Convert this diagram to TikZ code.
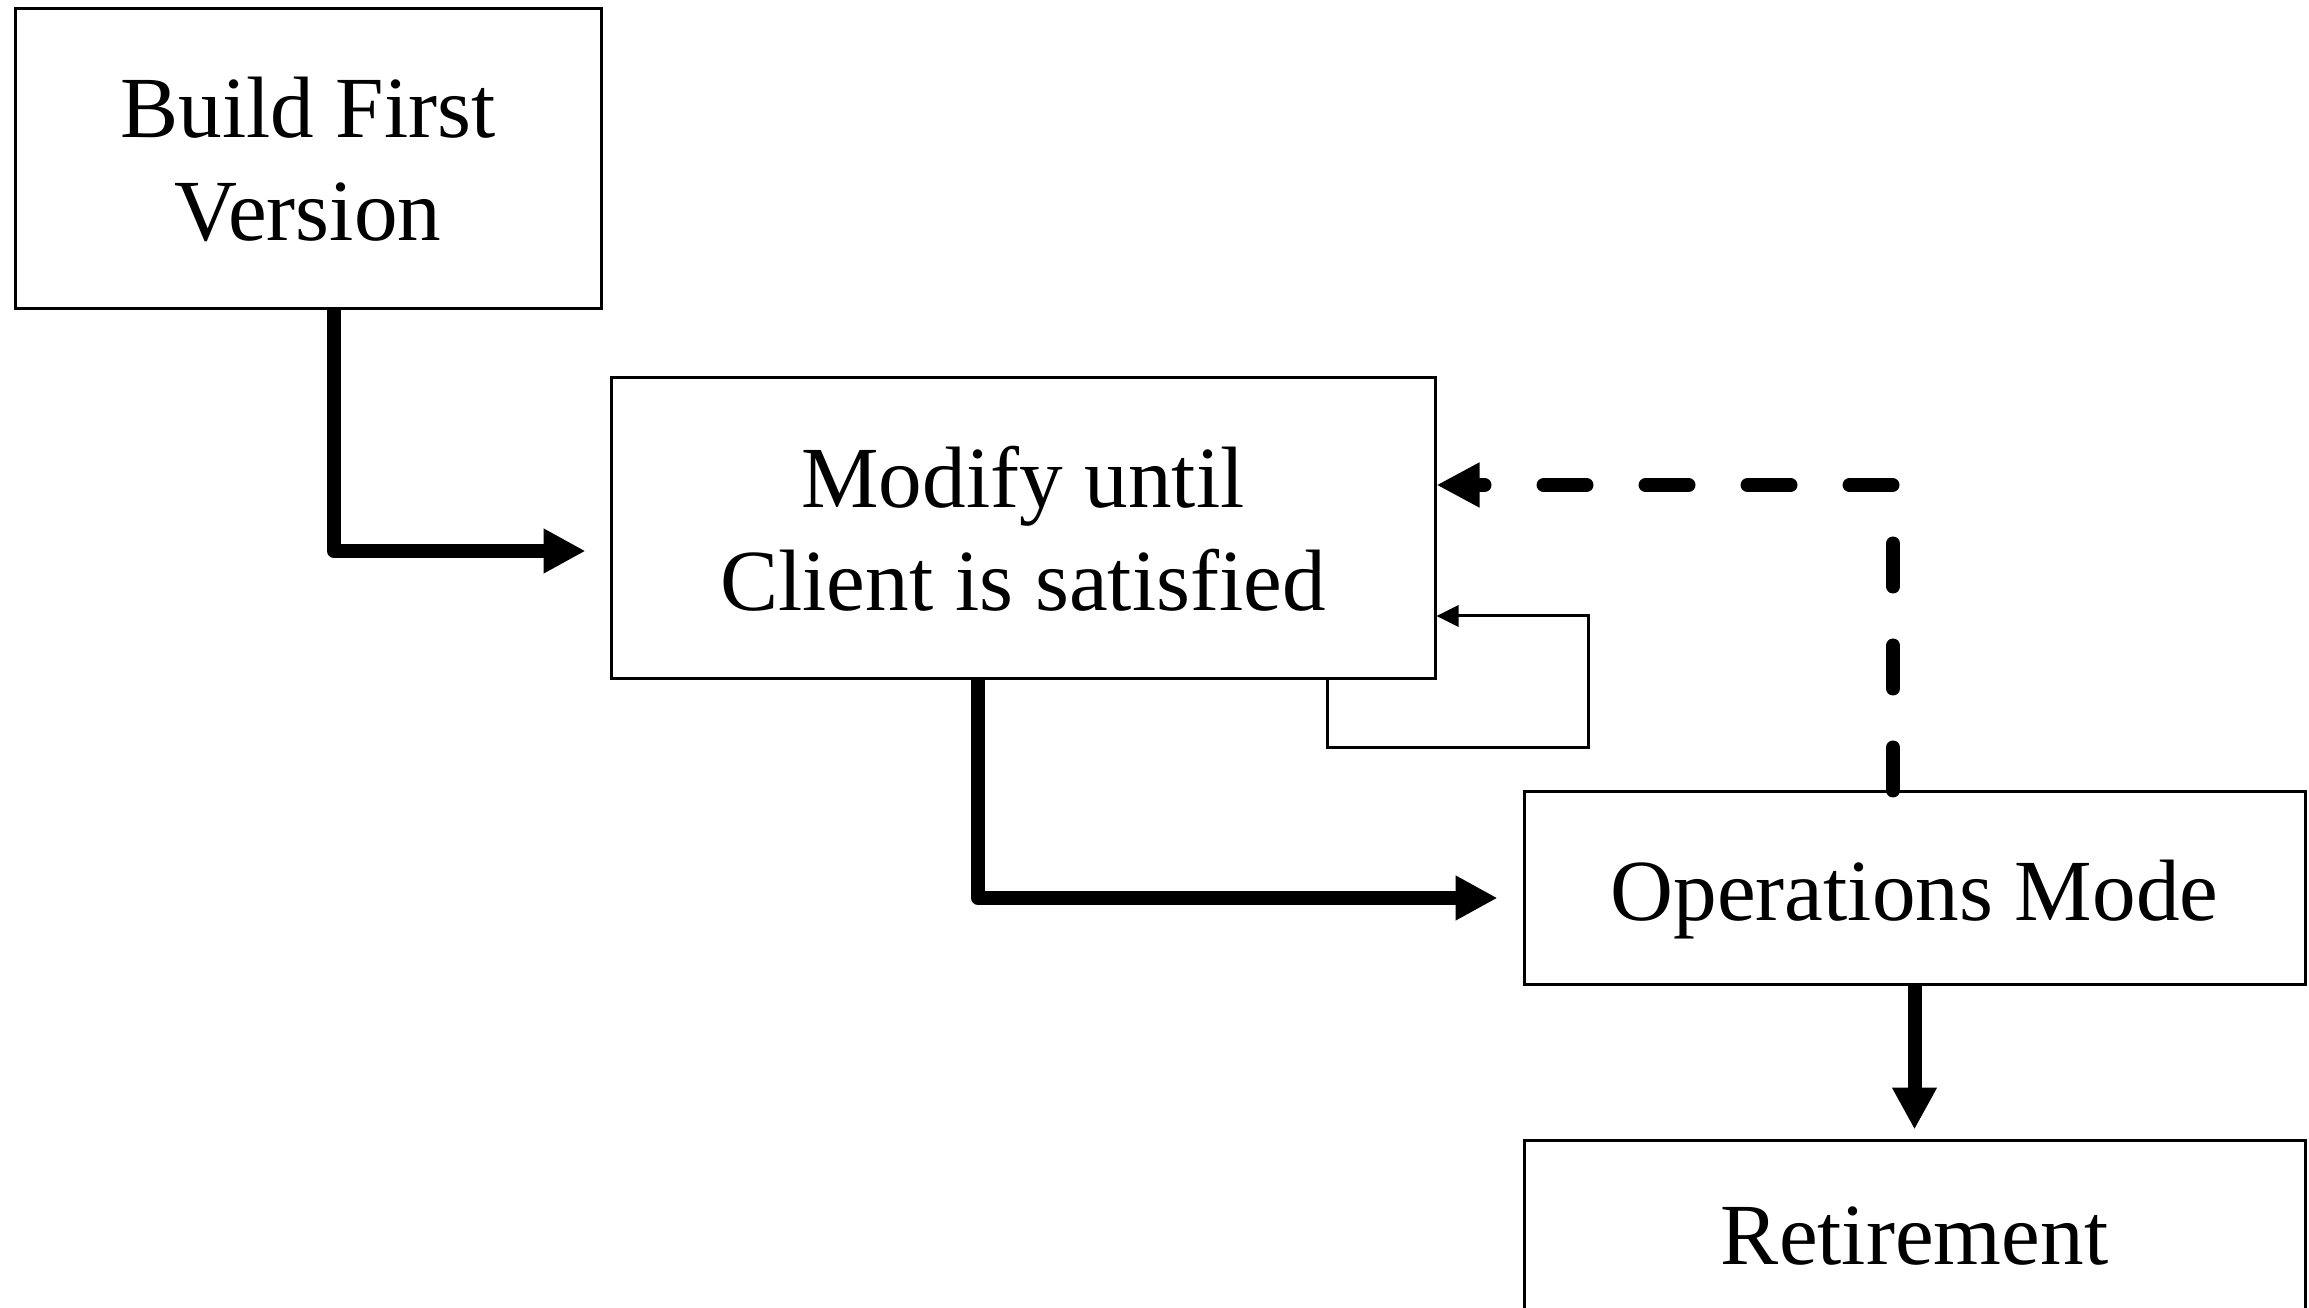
\documentclass[tikz,border=0pt]{standalone}
\usepackage{fontspec}
\setmainfont{Liberation Serif}
\usetikzlibrary{arrows.meta, positioning}
\tikzset{
  phasebox/.style={rectangle, draw, line width=0.03cm, align=center, inner sep=2pt, font=\fontsize{24.8}{29.3}\selectfont},
  flowarr/.style={line width=0.14cm, line join=round, -{Triangle[length=0.42cm, width=0.42cm]}},
  backarr/.style={line width=0.14cm, line cap=round, dash pattern=on 0.43cm off 0.59cm, -{Triangle[length=0.43cm, width=0.42cm]}},
  selfarr/.style={line width=0.03cm, -{Triangle[length=0.22cm, width=0.21cm]}},
}

\begin{document}
\begin{tikzpicture}
  \useasboundingbox (0,0) rectangle (23.09,13.07);
  \clip (0,0) rectangle (23.09,13.07);
  % the four phases
  \node[phasebox, minimum width=5.86cm, minimum height=3.00cm] (build)  at (3.08, 11.48) {Build First\\Version};
  \node[phasebox, minimum width=8.24cm, minimum height=3.01cm] (modify) at (10.23, 7.785) {Modify until\\Client is satisfied};
  \node[phasebox, minimum width=7.81cm, minimum height=1.92cm, text height=0.84cm] (ops) at (19.145, 4.19) {Operations Mode};
  \node[phasebox, minimum width=7.81cm, minimum height=1.92cm] (retire) at (19.145, 0.71) {Retirement};
  % main flow
  \draw[flowarr, shorten >=0.24cm] ([xshift=0.26cm]build.south) |- ([yshift=-0.225cm]modify.west);
  \draw[flowarr, shorten >=0.25cm] ([xshift=-0.45cm]modify.south) |- ([yshift=-0.10cm]ops.west);
  \draw[flowarr, shorten >=0.09cm] (ops.south) -- (retire.north);
  % back to modify
  \draw[backarr] ([xshift=-0.215cm]ops.north) |- ([yshift=0.435cm]modify.east);
  \draw[selfarr] ([xshift=3.04cm]modify.south) |- ++(2.61,-0.67) |- ([yshift=-0.875cm]modify.east);
\end{tikzpicture}
\end{document}
